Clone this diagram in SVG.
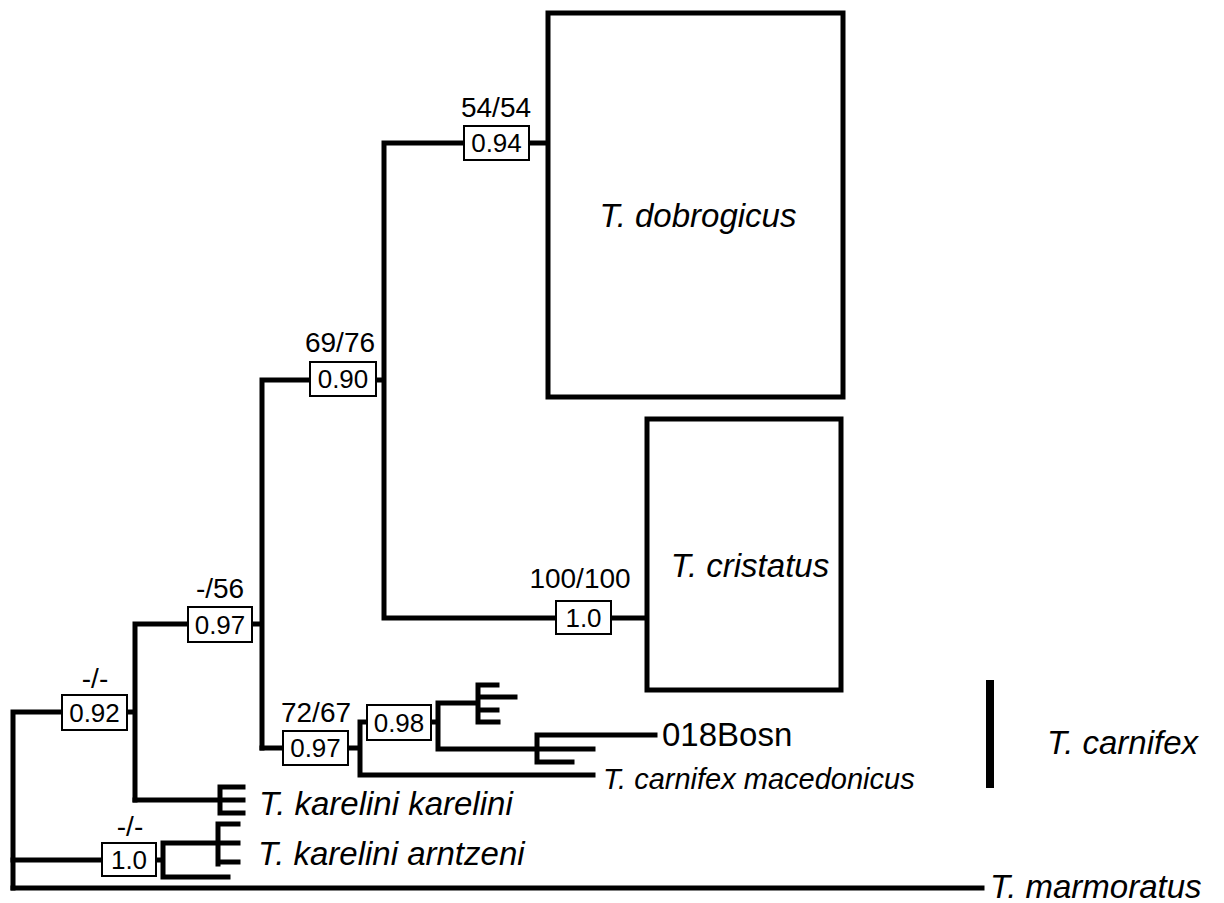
<svg xmlns="http://www.w3.org/2000/svg" width="1224" height="903" viewBox="0 0 1224 903">
<style>
.br{fill:none;stroke:#000;stroke-width:5;stroke-linecap:square}
.clade{fill:#fff;stroke:#000;stroke-width:5}
.sb{fill:#fff;stroke:#000;stroke-width:2}
.v{font-family:"Liberation Sans",Arial,sans-serif;font-size:26px;text-anchor:middle;fill:#000}
.lb{font-family:"Liberation Sans",Arial,sans-serif;font-size:28px;text-anchor:middle;fill:#000}
.tx{font-family:"Liberation Sans",Arial,sans-serif;font-size:33px;font-style:italic;fill:#000}
.txr{font-family:"Liberation Sans",Arial,sans-serif;font-size:33px;fill:#000}
</style>
<rect width="1224" height="903" fill="#fff"/>
<g id="connectors">
<path class="br" d="M13,712 V888 M13,712 H62 M127,712 H135 M135,624 V800 M135,624 H188 M252,624 H262 M262,380 V748 M262,380 H310 M376,380 H384 M384,143 V618 M384,143 H464 M529,143 H548 M384,618 H556 M611,618 H647"/>
<path class="br" d="M262,748 H283 M348,748 H360 M360,722 V775 M360,722 H367 M360,775 H593 M431,722 H438 M438,703 V749 M438,703 H478 M478,685 V722 M478,685 H497 M478,697 H515 M478,710 H497 M478,722 H498 M438,749 H537 M537,735 V762 M537,735 H655 M537,749 H593 M537,762 H572"/>
<path class="br" d="M135,800 H220 M220,787 V813 M220,787 H243 M220,800 H243 M220,813 H243"/>
<path class="br" d="M13,860 H102 M156,860 H163 M163,843 V877 M163,843 H218 M163,877 H228 M218,824 V864 M218,824 H238 M218,843 H238 M218,862 H238"/>
<path class="br" d="M13,888 H982"/>
</g>
<g id="node-dobrogicus">
<rect class="clade" x="548" y="13" width="295" height="384"/>
<text class="tx" x="698" y="227" text-anchor="middle">T. dobrogicus</text>
</g>
<g id="node-cristatus">
<rect class="clade" x="647" y="419" width="194" height="271"/>
<text class="tx" x="750" y="577" text-anchor="middle">T. cristatus</text>
</g>
<g id="support-094">
<text class="lb" x="496" y="117">54/54</text>
<rect class="sb" x="464" y="126" width="65" height="34"/>
<text class="v" x="496.5" y="152">0.94</text>
</g>
<g id="support-090">
<text class="lb" x="340" y="352">69/76</text>
<rect class="sb" x="310" y="362" width="66" height="34"/>
<text class="v" x="343" y="388">0.90</text>
</g>
<g id="support-100">
<text class="lb" x="580" y="588">100/100</text>
<rect class="sb" x="556" y="601" width="55" height="33"/>
<text class="v" x="583.5" y="627">1.0</text>
</g>
<g id="support-097a">
<text class="lb" x="220" y="598">-/56</text>
<rect class="sb" x="188" y="607" width="64" height="35"/>
<text class="v" x="220" y="634">0.97</text>
</g>
<g id="support-092">
<text class="lb" x="95" y="688">-/-</text>
<rect class="sb" x="62" y="695" width="65" height="35"/>
<text class="v" x="94.5" y="722">0.92</text>
</g>
<g id="support-097b">
<text class="lb" x="316" y="722">72/67</text>
<rect class="sb" x="283" y="731" width="65" height="34"/>
<text class="v" x="315.5" y="757">0.97</text>
</g>
<g id="support-098">
<rect class="sb" x="367" y="705" width="64" height="35"/>
<text class="v" x="399" y="732">0.98</text>
</g>
<g id="support-10b">
<text class="lb" x="130" y="836">-/-</text>
<rect class="sb" x="102" y="843" width="54" height="33"/>
<text class="v" x="129" y="869">1.0</text>
</g>
<g id="node-018Bosn">
<text class="txr" x="662" y="746">018Bosn</text>
</g>
<g id="node-macedonicus">
<text class="tx" x="603" y="789" style="font-size:29px">T. carnifex macedonicus</text>
</g>
<g id="node-carnifex">
<rect x="986" y="680" width="8" height="108" fill="#000"/>
<text class="tx" x="1047" y="754">T. carnifex</text>
</g>
<g id="node-karelini">
<text class="tx" x="259" y="815">T. karelini karelini</text>
</g>
<g id="node-arntzeni">
<text class="tx" x="258" y="865">T. karelini arntzeni</text>
</g>
<g id="node-marmoratus">
<text class="tx" x="990" y="898">T. marmoratus</text>
</g>
</svg>
